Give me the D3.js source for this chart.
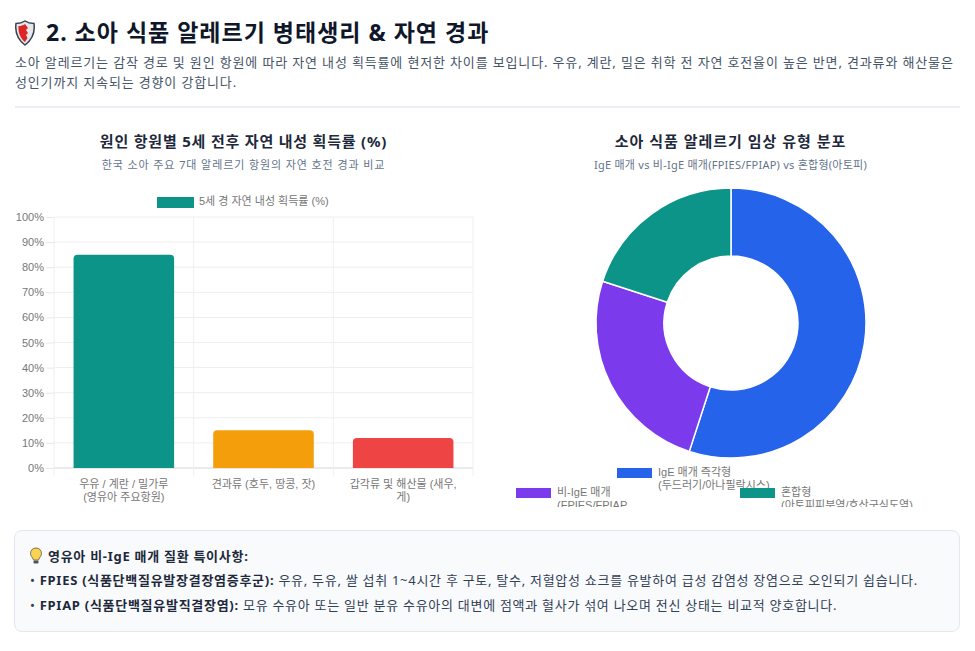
<!DOCTYPE html>
<html lang="ko">
<head>
<meta charset="utf-8">
<script src="https://cdn.jsdelivr.net/npm/d3@7"></script>
<style>
html, body { margin: 0; padding: 0; background: #fff; overflow: hidden; }
body { width: 975px; height: 651px; position: relative; font-family: "Noto Sans", "Noto Sans CJK KR", sans-serif; color: #1e293b; }
.t { position: absolute; white-space: nowrap; }
#title { left: 46px; top: 16px; font-size: 23px; line-height: 32px; font-weight: 700; color: #0f172a; letter-spacing: 1px; }
.lead { left: 15px; font-size: 13px; line-height: 20px; color: #475569; letter-spacing: 0.85px; }
#rule { position: absolute; left: 15px; top: 106px; width: 945px; height: 2px; background: #eceef5; }
.ct { font-size: 15px; line-height: 20px; font-weight: 700; color: #1e293b; text-align: center; letter-spacing: 0.8px; }
.cs { font-size: 11px; line-height: 16px; color: #64748b; text-align: center; letter-spacing: 0.9px; }
#note { position: absolute; left: 14px; top: 530px; width: 944px; height: 100px; background: #f8fafc; border: 1px solid #e2e8f0; border-radius: 8px; }
.n { left: 30px; font-size: 13px; line-height: 20px; color: #334155; letter-spacing: 0.72px; }
.n b { color: #1e293b; }
svg { position: absolute; left: 0; top: 0; }
svg text { font-family: "Liberation Sans", "Noto Sans CJK KR", sans-serif; }
</style>
</head>
<body>
<svg id="shield" width="24" height="28" style="left:15px;top:20px">
  <path d="M10 1 C13 3 16 3.500 19 3.500 C20 11 18 19 10 25 C2 19 0 11 1 3.500 C4 3.500 7 3 10 1Z" fill="#e5e7eb" stroke="#374151" stroke-width="1.500"/>
  <path d="M10 4 L10 22 C5 18 3 12 3.500 6 C6 6 8 5.500 10 4Z" fill="#dc2626"/>
  <path d="M10 4 L13 8 L11 10 L13 13 L11 15 L12.500 18 L10 22Z" fill="#dc2626"/>
</svg>
<div class="t" id="title">2. 소아 식품 알레르기 병태생리 &amp; 자연 경과</div>
<div class="t lead" style="top:52px">소아 알레르기는 감작 경로 및 원인 항원에 따라 자연 내성 획득률에 현저한 차이를 보입니다. 우유, 계란, 밀은 취학 전 자연 호전율이 높은 반면, 견과류와 해산물은</div>
<div class="t lead" style="top:72px">성인기까지 지속되는 경향이 강합니다.</div>
<div id="rule"></div>

<div class="t ct" style="left:15px;width:457px;top:131px">원인 항원별 5세 전후 자연 내성 획득률 (%)</div>
<div class="t cs" style="left:15px;width:457px;top:157px">한국 소아 주요 7대 알레르기 항원의 자연 호전 경과 비교</div>
<div class="t ct" style="left:502px;width:457px;top:131px;letter-spacing:1px">소아 식품 알레르기 임상 유형 분포</div>
<div class="t cs" style="left:502px;width:457px;top:157px;letter-spacing:0.25px">IgE 매개 vs 비-IgE 매개(FPIES/FPIAP) vs 혼합형(아토피)</div>

<svg id="chart" width="975" height="651"></svg>

<div id="note"></div>
<svg id="bulb" width="14" height="18" style="left:29px;top:547px">
  <path d="M7 1 C3.500 1 1.500 3.500 1.500 6.500 C1.500 9 3.500 10 4.500 13 L9.500 13 C10.500 10 12.500 9 12.500 6.500 C12.500 3.500 10.500 1 7 1Z" fill="#fcd34d" stroke="#78716c" stroke-width="1"/>
  <rect x="4.500" y="13.500" width="5" height="3" rx="1" fill="#57534e"/>
</svg>
<div class="t n" style="left:48px;top:546px"><b>영유아 비-IgE 매개 질환 특이사항:</b></div>
<div class="t n" style="top:570px">• <b>FPIES (식품단백질유발장결장염증후군):</b> 우유, 두유, 쌀 섭취 1~4시간 후 구토, 탈수, 저혈압성 쇼크를 유발하여 급성 감염성 장염으로 오인되기 쉽습니다.</div>
<div class="t n" style="top:595px">• <b>FPIAP (식품단백질유발직결장염):</b> 모유 수유아 또는 일반 분유 수유아의 대변에 점액과 혈사가 섞여 나오며 전신 상태는 비교적 양호합니다.</div>

<script>
const barLabels = [["우유 / 계란 / 밀가루", "(영유아 주요항원)"], ["견과류 (호두, 땅콩, 잣)"], ["갑각류 및 해산물 (새우,", "게)"]];
const barValues = [85, 15, 12];
const barColors = ["#0d9488", "#f59e0b", "#ef4444"];
const barLegend = "5세 경 자연 내성 획득률 (%)";
const yTicks = [0, 10, 20, 30, 40, 50, 60, 70, 80, 90, 100];

const pieLabels = [["IgE 매개 즉각형", "(두드러기/아나필락시스)"], ["비-IgE 매개", "(FPIES/FPIAP"], ["혼합형", "(아토피피부염/호산구식도염)"]];
const pieValues = [55, 25, 20];
const pieColors = ["#2563eb", "#7c3aed", "#0d9488"];

const svg = d3.select("#chart");
const grey = "#777";

// bar chart
const x = d3.scaleBand().domain(d3.range(barValues.length)).range([54, 473]);
const y = d3.scaleLinear().domain([0, 100]).range([468, 217]);

svg.append("g").selectAll("line")
    .data(yTicks)
    .join("line")
    .attr("x1", 54).attr("x2", 473)
    .attr("y1", d => y(d)).attr("y2", d => y(d))
    .attr("stroke", d => d === 0 ? "#d4d4d4" : "#eeeeee");

const edges = d3.range(barValues.length + 1).map(i => 54 + i * x.step());
svg.append("g").selectAll("line")
    .data(edges)
    .join("line")
    .attr("x1", d => d).attr("x2", d => d)
    .attr("y1", 217).attr("y2", 476)
    .attr("stroke", "#f0f0f0");

const yAxis = svg.append("g").attr("transform", "translate(54,0)")
    .call(d3.axisLeft(y).tickValues(yTicks).tickFormat(d => d + "%").tickSize(8));
yAxis.select(".domain").remove();
yAxis.selectAll("line").attr("stroke", "#e8e8e8");
yAxis.selectAll("text").attr("fill", grey).attr("font-size", 11).attr("x", -10);

const barW = x.bandwidth() * 0.72;
const r = 4;
svg.append("g").selectAll("path")
    .data(barValues)
    .join("path")
    .attr("fill", (d, i) => barColors[i])
    .attr("d", (d, i) => {
        const x0 = x(i) + (x.bandwidth() - barW) / 2;
        const p = d3.path();
        p.moveTo(x0, y(0));
        p.lineTo(x0, y(d) + r);
        p.quadraticCurveTo(x0, y(d), x0 + r, y(d));
        p.lineTo(x0 + barW - r, y(d));
        p.quadraticCurveTo(x0 + barW, y(d), x0 + barW, y(d) + r);
        p.lineTo(x0 + barW, y(0));
        p.closePath();
        return p.toString();
    });

const xLabels = svg.append("g").selectAll("text")
    .data(barLabels)
    .join("text")
    .attr("fill", grey)
    .attr("font-size", 11)
    .attr("text-anchor", "middle");
xLabels.selectAll("tspan")
    .data((d, i) => d.map(s => ({ s, i })))
    .join("tspan")
    .attr("x", d => x(d.i) + x.bandwidth() / 2)
    .attr("y", (d, j) => 488 + j * 12.5)
    .text(d => d.s);

svg.append("rect").attr("x", 157).attr("y", 197).attr("width", 37).attr("height", 11).attr("fill", barColors[0]);
svg.append("text").attr("x", 199).attr("y", 205).attr("fill", grey).attr("font-size", 11).text(barLegend);

// donut chart
const cx = 731, cy = 323;
const arcs = d3.pie().sort(null)(pieValues);
const arc = d3.arc().innerRadius(67).outerRadius(135);
svg.append("g").attr("transform", `translate(${cx},${cy})`)
    .selectAll("path")
    .data(arcs)
    .join("path")
    .attr("d", arc)
    .attr("fill", (d, i) => pieColors[i])
    .attr("stroke", "#fff")
    .attr("stroke-width", 1.5);

// legend is cut off at the bottom of its canvas
svg.append("clipPath").attr("id", "legendClip").append("rect")
    .attr("x", 500).attr("y", 460).attr("width", 460).attr("height", 47);
const legendPos = [[617, 468], [516, 488], [740, 488]];
const legend = svg.append("g").attr("clip-path", "url(#legendClip)")
    .selectAll("g")
    .data(pieLabels)
    .join("g")
    .attr("transform", (d, i) => `translate(${legendPos[i][0]},${legendPos[i][1]})`);
legend.append("rect")
    .attr("width", 35).attr("height", 10)
    .attr("fill", (d, i) => pieColors[i]);
legend.append("text")
    .attr("fill", grey)
    .attr("font-size", 11)
    .selectAll("tspan")
    .data(d => d)
    .join("tspan")
    .attr("x", 41)
    .attr("y", (d, j) => 8 + j * 13)
    .text(d => d);
</script>
</body>
</html>
